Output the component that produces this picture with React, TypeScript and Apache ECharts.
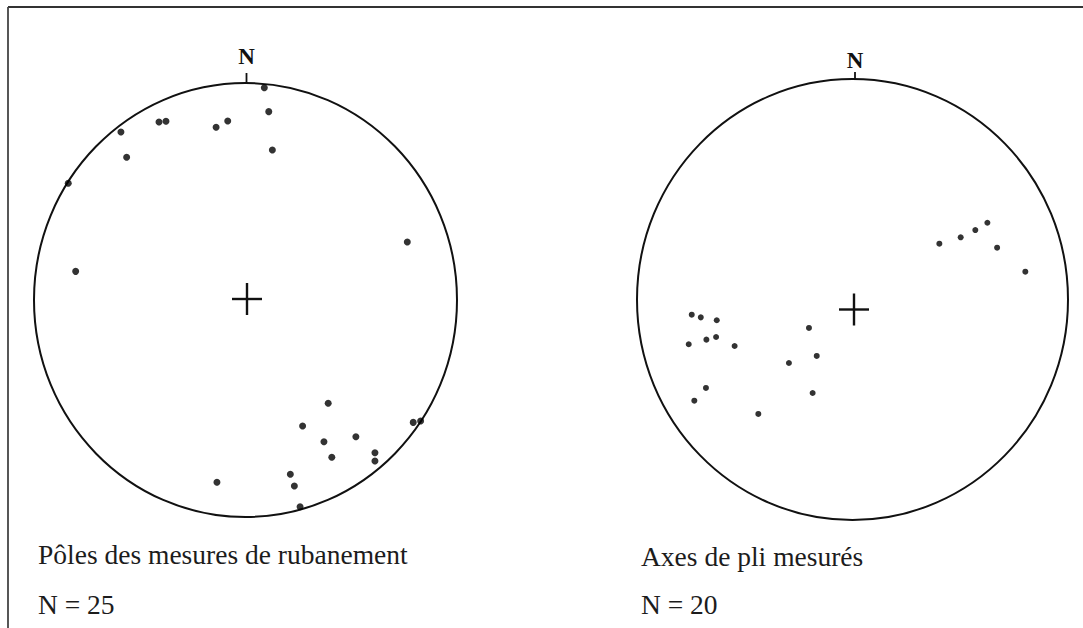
import React, { useEffect, useRef } from "react";
import * as echarts from "echarts";

// Stereonet 1: poles of banding measurements (east, north), unit-circle coordinates
const polesTitle = "Pôles des mesures de rubanement";
const polesCount = "N = 25";
const polesPoints: [number, number][] = [
  [0.089, 0.978], [0.11, 0.868], [0.127, 0.691], [-0.084, 0.825], [-0.139, 0.796],
  [-0.409, 0.82], [-0.376, 0.824], [-0.589, 0.774], [-0.562, 0.658], [-0.838, 0.538],
  [-0.803, 0.132], [0.765, 0.267], [0.391, -0.476], [0.27, -0.581], [0.371, -0.653],
  [0.522, -0.63], [0.408, -0.725], [0.612, -0.704], [0.612, -0.742], [0.793, -0.564],
  [0.828, -0.558], [0.212, -0.803], [0.231, -0.857], [0.258, -0.953], [-0.135, -0.84],
];

// Stereonet 2: measured fold axes
const axesTitle = "Axes de pli mesurés";
const axesCount = "N = 20";
const axesPoints: [number, number][] = [
  [0.403, 0.253], [0.502, 0.282], [0.57, 0.315], [0.626, 0.348], [0.671, 0.235],
  [0.802, 0.126], [-0.746, -0.069], [-0.704, -0.081], [-0.63, -0.094], [-0.76, -0.203],
  [-0.678, -0.182], [-0.633, -0.17], [-0.547, -0.211], [-0.202, -0.129], [-0.166, -0.256],
  [-0.295, -0.288], [-0.68, -0.401], [-0.734, -0.459], [-0.185, -0.424], [-0.437, -0.519],
];

const northLabel = "N";

// layout (pixels)
const net1 = { cx: 245.5, cy: 300, rx: 211.5, ry: 217, crossX: 247, crossY: 299, tickX: 246.5 };
const net2 = { cx: 852.5, cy: 299.5, rx: 215.5, ry: 220.5, crossX: 854, crossY: 309.5, tickX: 855 };

const ink = "#000000";
const serif = "'Liberation Serif', 'Times New Roman', serif";

export default function App() {
  const ref = useRef<HTMLDivElement>(null);

  useEffect(() => {
    document.body.style.margin = "0";
    if (!ref.current) return;
    const chart = echarts.init(ref.current, null, { renderer: "svg" });

    const grid = (n: typeof net1) => ({
      left: n.cx - n.rx,
      top: n.cy - n.ry,
      width: 2 * n.rx,
      height: 2 * n.ry,
      containLabel: false,
    });
    const axis = (gridIndex: number) => ({
      type: "value" as const,
      gridIndex,
      min: -1,
      max: 1,
      show: false,
    });

    const netGraphics = (n: typeof net1, tickTop: number, nY: number) => [
      {
        type: "ellipse",
        shape: { cx: n.cx, cy: n.cy, rx: n.rx, ry: n.ry },
        style: { fill: "none", stroke: "#111", lineWidth: 2 },
        silent: true,
      },
      {
        type: "line",
        shape: { x1: n.crossX - 15, y1: n.crossY, x2: n.crossX + 15, y2: n.crossY },
        style: { stroke: "#111", lineWidth: 2.4 },
      },
      {
        type: "line",
        shape: { x1: n.crossX, y1: n.crossY - 16, x2: n.crossX, y2: n.crossY + 16 },
        style: { stroke: "#111", lineWidth: 2.4 },
      },
      {
        type: "line",
        shape: { x1: n.tickX, y1: tickTop, x2: n.tickX, y2: n.cy - n.ry + 1 },
        style: { stroke: "#111", lineWidth: 1.8 },
      },
      {
        type: "text",
        x: n.tickX,
        y: nY,
        style: {
          text: northLabel,
          font: `bold 23px ${serif}`,
          fill: "#111",
          textAlign: "center",
          textVerticalAlign: "middle",
        },
      },
    ];

    const label = (text: string, x: number, y: number) => ({
      type: "text",
      x,
      y,
      style: {
        text,
        font: `27.5px ${serif}`,
        fill: "#1c1c1c",
        textAlign: "left",
        textVerticalAlign: "middle",
      },
    });

    chart.setOption({
      animation: false,
      backgroundColor: "#ffffff",
      grid: [grid(net1), grid(net2)],
      xAxis: [axis(0), axis(1)],
      yAxis: [axis(0), axis(1)],
      series: [
        {
          name: polesTitle,
          type: "scatter",
          xAxisIndex: 0,
          yAxisIndex: 0,
          data: polesPoints,
          symbolSize: 7,
          clip: false,
          itemStyle: { color: ink },
          silent: true,
        },
        {
          name: axesTitle,
          type: "scatter",
          xAxisIndex: 1,
          yAxisIndex: 1,
          data: axesPoints,
          symbolSize: 6,
          clip: false,
          itemStyle: { color: ink },
          silent: true,
        },
      ],
      graphic: [
        {
          type: "line",
          shape: { x1: 8, y1: 7, x2: 1083, y2: 7 },
          style: { stroke: "#333", lineWidth: 2 },
        },
        {
          type: "line",
          shape: { x1: 8, y1: 7, x2: 8, y2: 628 },
          style: { stroke: "#444", lineWidth: 1.8 },
        },
        ...netGraphics(net1, 73, 56),
        ...netGraphics(net2, 72, 60),
        label(polesTitle, 38, 554),
        label(polesCount, 38, 604.5),
        label(axesTitle, 641, 556),
        label(axesCount, 641, 604),
      ],
    });

    return () => chart.dispose();
  }, []);

  return <div ref={ref} style={{ width: 1083, height: 628 }} />;
}
